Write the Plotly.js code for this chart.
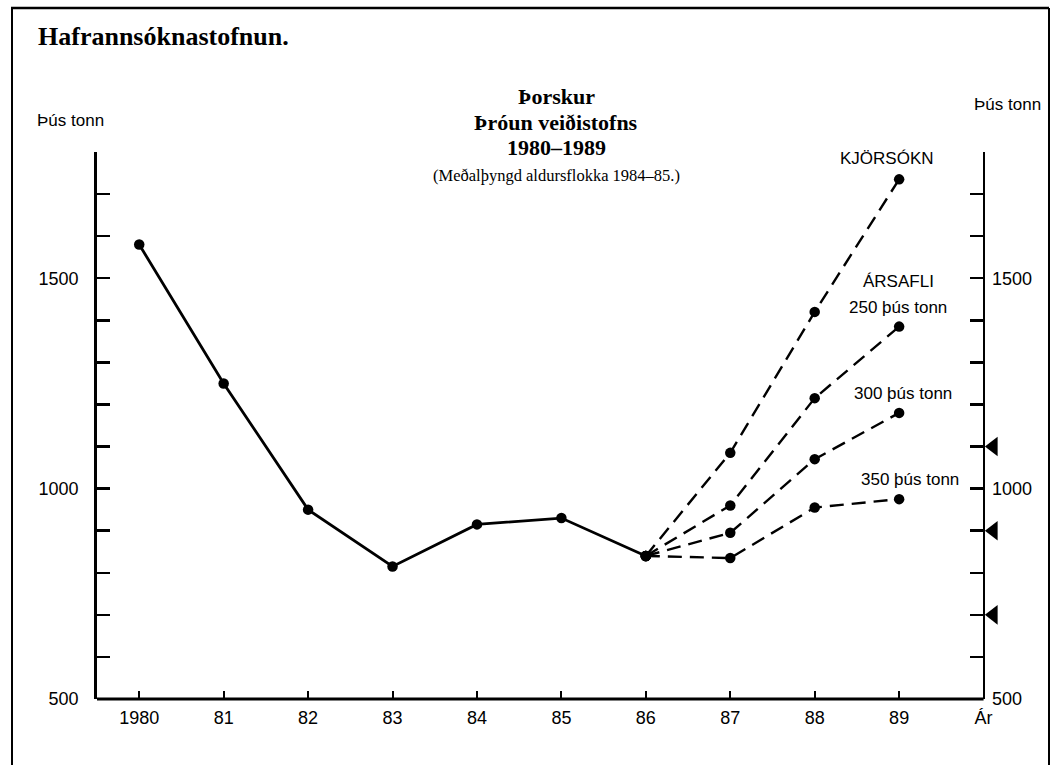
<!DOCTYPE html>
<html><head><meta charset="utf-8">
<script src="https://cdn.plot.ly/plotly-3.0.1.min.js"></script>
<style>html,body{margin:0;padding:0;background:#fff;} #chart{width:1052px;height:765px;}</style>
</head><body><div id="chart"></div>
<script>
// ---- data ----
const years = [1980, 1981, 1982, 1983, 1984, 1985, 1986];
const stock = [1580, 1250, 950, 815, 915, 930, 840];
const projYears = [1986, 1987, 1988, 1989];
const kjorsokn = [840, 1085, 1420, 1735];
const afli250 = [840, 960, 1215, 1385];
const afli300 = [840, 895, 1070, 1180];
const afli350 = [840, 835, 955, 975];
const catchMarks = [1100, 900, 700];
const xTickVals = [1980, 1981, 1982, 1983, 1984, 1985, 1986, 1987, 1988, 1989, 1990];
const xTickText = ['1980', '81', '82', '83', '84', '85', '86', '87', '88', '89', 'Ár'];
const yTickVals = [500, 600, 700, 800, 900, 1000, 1100, 1200, 1300, 1400, 1500, 1600, 1700, 1800];
const yTickText = ['500', '', '', '', '', '1000', '', '', '', '', '1500', '', '', ''];

// ---- geometry helpers (pixel -> paper) ----
const W = 1052, H = 765, M = {l: 97, r: 49, t: 152, b: 66};
const PW = W - M.l - M.r, PH = H - M.t - M.b;
const px = X => (X - M.l) / PW;
const py = Y => (H - M.b - Y) / PH;
const XR = [1979.5, 1990.23];
const rightAxisPos = (1990 - XR[0]) / (XR[1] - XR[0]);
const pxPerYear = PW / (XR[1] - XR[0]);

const SANS = 'Liberation Sans, Arial, Helvetica, sans-serif';
const SERIF = 'Liberation Serif, Times New Roman, serif';

const projStyle = {color: '#000', width: 2.4, dash: '14px,8px'};
const mk = {color: '#000', size: 10.5};
const triSize = 17;

const traces = [
  {x: projYears, y: kjorsokn, mode: 'lines+markers', line: projStyle, marker: mk, cliponaxis: false, hoverinfo: 'skip'},
  {x: projYears, y: afli250, mode: 'lines+markers', line: projStyle, marker: mk, cliponaxis: false, hoverinfo: 'skip'},
  {x: projYears, y: afli300, mode: 'lines+markers', line: projStyle, marker: mk, cliponaxis: false, hoverinfo: 'skip'},
  {x: projYears, y: afli350, mode: 'lines+markers', line: projStyle, marker: mk, cliponaxis: false, hoverinfo: 'skip'},
  {x: years, y: stock, mode: 'lines+markers', line: {color: '#000', width: 2.8}, marker: mk, cliponaxis: false, hoverinfo: 'skip'},
  {x: catchMarks.map(() => 1990 + (triSize / 2) * 2 / Math.sqrt(3) / pxPerYear), y: catchMarks, yaxis: 'y2', mode: 'markers',
   marker: {symbol: 'triangle-left', size: triSize, color: '#000'}, cliponaxis: false, hoverinfo: 'skip'}
];

const axisCommon = {
  showline: true, linecolor: '#000', linewidth: 2.8, showgrid: false, zeroline: false,
  ticks: 'inside', tickcolor: '#000', tickfont: {family: SANS, size: 18, color: '#000'}
};

const ann = (X, Y, text, font, xanchor) => ({
  xref: 'paper', yref: 'paper', x: px(X), y: py(Y), text: text, showarrow: false,
  xanchor: xanchor || 'center', yanchor: 'middle', font: font
});
const sansF = {family: SANS, size: 17, color: '#000'};
const titleF = {family: SERIF, size: 22, color: '#000', weight: 'bold'};

const layout = {
  width: W, height: H, margin: M, showlegend: false,
  paper_bgcolor: '#fff', plot_bgcolor: 'rgba(0,0,0,0)',
  xaxis: Object.assign({}, axisCommon, {range: XR, tickvals: xTickVals, ticktext: xTickText,
    showline: false, ticklen: 8, tickwidth: 2, ticklabelstandoff: 6}),
  yaxis: Object.assign({}, axisCommon, {range: [500, 1800], tickvals: yTickVals, ticktext: yTickText,
    ticklen: 13, tickwidth: 2.4, ticklabelstandoff: 12}),
  yaxis2: Object.assign({}, axisCommon, {range: [500, 1800], tickvals: yTickVals, ticktext: yTickText,
    overlaying: 'y', side: 'right', anchor: 'free', position: rightAxisPos,
    ticklen: 13, tickwidth: 2.4, ticklabelstandoff: 3}),
  shapes: [
    // bottom axis line between the two value axes
    {type: 'line', xref: 'x', yref: 'paper', x0: XR[0], x1: 1990, y0: 0, y1: 0, line: {color: '#000', width: 2.8}},
    // page frame
    {type: 'line', xref: 'paper', yref: 'paper', x0: px(12), x1: px(12), y0: py(8), y1: py(770), line: {color: '#000', width: 2}},
    {type: 'line', xref: 'paper', yref: 'paper', x0: px(11), x1: px(1049), y0: py(8), y1: py(8), line: {color: '#000', width: 2.5}},
    {type: 'line', xref: 'paper', yref: 'paper', x0: px(1049), x1: px(1049), y0: py(8), y1: py(770), line: {color: '#000', width: 2}}
  ],
  annotations: [
    ann(36, 37, 'Hafrannsóknastofnun.', {family: SERIF, size: 26, color: '#000', weight: 'bold'}, 'left'),
    ann(556, 97, 'Þorskur', titleF),
    ann(556, 122, 'Þróun veiðistofns', titleF),
    ann(556, 147, '1980–1989', titleF),
    ann(556, 175, '(Meðalþyngd aldursflokka 1984–85.)', {family: SERIF, size: 16.5, color: '#000'}),
    ann(70, 121, 'Þús tonn', sansF),
    ann(1007, 104, 'Þús tonn', sansF),
    ann(887, 158, 'KJÖRSÓKN', sansF),
    ann(898, 281, 'ÁRSAFLI', sansF),
    ann(898, 307, '250 þús tonn', sansF),
    ann(903, 393, '300 þús tonn', sansF),
    ann(910, 479, '350 þús tonn', sansF)
  ]
};

Plotly.newPlot('chart', traces, layout, {staticPlot: true, displayModeBar: false});
</script>
</body></html>
